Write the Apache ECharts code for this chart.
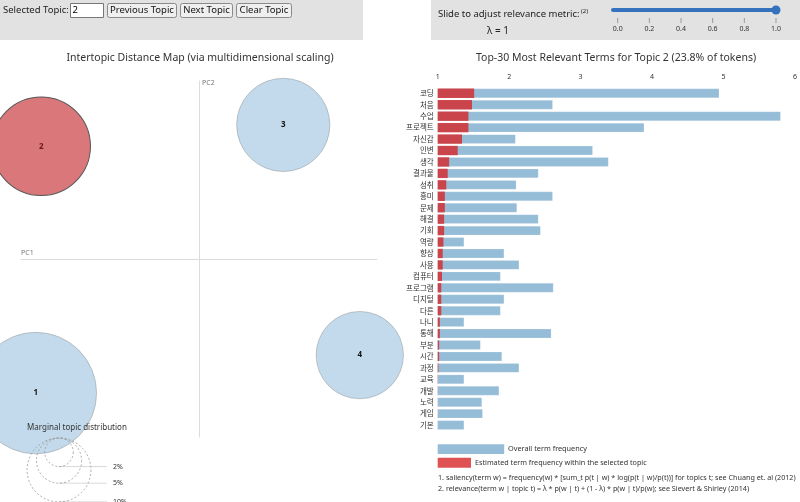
<!DOCTYPE html>
<html><head><meta charset="utf-8">
<script src="https://cdn.jsdelivr.net/npm/echarts@6/dist/echarts.min.js"></script>
<style>html,body{margin:0;padding:0;background:#fff}#c{width:800px;height:502px}</style>
</head><body><div id="c"></div>
<script>
// ---- data ----
const topicIds = ['1', '2', '3', '4'];
const topicPC1 = [-0.275, -0.266, 0.142, 0.271];
const topicPC2 = [-0.226, 0.190, 0.226, -0.162];
const topicShare = [36.2, 23.8, 21.3, 18.7]; // % of tokens
const selectedTopic = '2';
const terms = ['코딩','처음','수업','프로젝트','자신감','인변','생각','결과물','성취','흥미','문제','해결','기회','역량','향상','사용','컴퓨터','프로그램','디지털','다른','나니','통해','부분','시간','과정','교육','개발','노력','게임','기본'];
const overallFreq = [4.94,2.61,5.80,3.89,2.09,3.17,3.39,2.41,2.10,2.61,2.11,2.41,2.44,1.37,1.93,2.14,1.88,2.62,1.93,1.88,1.37,2.59,1.60,1.90,2.14,1.37,1.86,1.62,1.63,1.37];
const topicFreq   = [1.51,1.48,1.43,1.43,1.34,1.28,1.16,1.14,1.12,1.10,1.10,1.09,1.09,1.08,1.07,1.07,1.06,1.05,1.05,1.05,1.03,1.03,1.02,1.02,1.01,1.003,1.002,1.001,1.001,1.001];
const freqTicks = [1, 2, 3, 4, 5, 6];
const marginalGuide = [2, 5, 10];
const lambdaTicks = ['0.0', '0.2', '0.4', '0.6', '0.8', '1.0'];
const lambdaValue = 1;

// ---- styling constants ----
const K = 10.1; // px radius per sqrt(%)
const FONT = '"Noto Sans", "Noto Sans CJK KR", sans-serif';
const KFONT = '"Noto Sans CJK KR", "Noto Sans", sans-serif';

const chart = echarts.init(document.getElementById('c'), null, {renderer: 'canvas'});

const scatterData = topicIds.map((id, i) => ({
  value: [topicPC1[i], topicPC2[i], topicShare[i], id],
  itemStyle: id === selectedTopic
    ? {color: 'rgba(196,36,42,0.62)', borderColor: '#555', borderWidth: 1, opacity: 1}
    : {color: 'rgba(31,119,180,0.27)', borderColor: 'rgba(140,140,140,0.45)', borderWidth: 1, opacity: 1},
  label: {color: id === selectedTopic ? '#6e1a1c' : '#111'}
}));

const g = [];
// left control bar
g.push({type: 'rect', shape: {x: 0, y: 0, width: 363, height: 40}, style: {fill: '#e2e2e2'}, z: 1});
g.push({type: 'text', x: 3, y: 10.5, style: {text: 'Selected Topic:', font: '9.5px ' + FONT, fill: '#222', textVerticalAlign: 'middle'}, z: 2});
g.push({type: 'rect', shape: {x: 70.5, y: 3.5, width: 33, height: 14}, style: {fill: '#fff', stroke: '#777', lineWidth: 1}, z: 2});
g.push({type: 'text', x: 72.5, y: 10.5, style: {text: selectedTopic, font: '9.5px ' + FONT, fill: '#000', textVerticalAlign: 'middle'}, z: 3});
[['Previous Topic', 107, 69], ['Next Topic', 180, 52], ['Clear Topic', 236, 55]].forEach(b => {
  g.push({type: 'rect', shape: {x: b[1] + 0.5, y: 3.5, width: b[2], height: 14, r: 2}, style: {fill: '#efefef', stroke: '#8a8a8a', lineWidth: 1}, z: 2});
  g.push({type: 'text', x: b[1] + b[2] / 2 + 0.5, y: 10.5, style: {text: b[0], font: '9.5px ' + FONT, fill: '#111', textAlign: 'center', textVerticalAlign: 'middle'}, z: 3});
});
// right control bar
g.push({type: 'rect', shape: {x: 431, y: 0, width: 369, height: 40}, style: {fill: '#e2e2e2'}, z: 1});
g.push({type: 'text', x: 438, y: 14, style: {text: 'Slide to adjust relevance metric:', font: '9.5px ' + FONT, fill: '#222', textVerticalAlign: 'middle'}, z: 2});
g.push({type: 'text', x: 581, y: 11, style: {text: '(2)', font: '6px ' + FONT, fill: '#222', textVerticalAlign: 'middle'}, z: 2});
g.push({type: 'text', x: 498, y: 31, style: {text: 'λ = ' + lambdaValue, font: '10px ' + FONT, fill: '#222', textAlign: 'center', textVerticalAlign: 'middle'}, z: 2});
const s0 = 617.7, s1 = 776;
g.push({type: 'line', shape: {x1: 613, y1: 10, x2: s1, y2: 10}, style: {stroke: '#3472bd', lineWidth: 4, lineCap: 'round'}, z: 2});
g.push({type: 'circle', shape: {cx: s0 + (s1 - s0) * lambdaValue, cy: 10, r: 4.5}, style: {fill: '#3472bd'}, z: 3});
lambdaTicks.forEach((t, i) => {
  const x = s0 + (s1 - s0) * parseFloat(t);
  g.push({type: 'line', shape: {x1: x, y1: 18, x2: x, y2: 23}, style: {stroke: '#999', lineWidth: 1}, z: 2});
  g.push({type: 'text', x: x, y: 28.5, style: {text: t, font: '7px ' + FONT, fill: '#333', textAlign: 'center', textVerticalAlign: 'middle'}, z: 2});
});
// titles
g.push({type: 'text', x: 200, y: 58, style: {text: 'Intertopic Distance Map (via multidimensional scaling)', font: '10.5px ' + FONT, fill: '#333', textAlign: 'center', textVerticalAlign: 'middle'}});
g.push({type: 'text', x: 616, y: 58, style: {text: 'Top-30 Most Relevant Terms for Topic ' + selectedTopic + ' (' + topicShare[topicIds.indexOf(selectedTopic)] + '% of tokens)', font: '10.5px ' + FONT, fill: '#333', textAlign: 'center', textVerticalAlign: 'middle'}});
// axis names
g.push({type: 'text', x: 21, y: 253, style: {text: 'PC1', font: '7px ' + FONT, fill: '#777', textVerticalAlign: 'middle'}});
g.push({type: 'text', x: 202, y: 83, style: {text: 'PC2', font: '7px ' + FONT, fill: '#777', textVerticalAlign: 'middle'}});
// marginal guide
g.push({type: 'text', x: 27, y: 428, style: {text: 'Marginal topic distribution', font: '8px ' + FONT, fill: '#333', textVerticalAlign: 'middle'}, z: 10});
const gcx = 59, gtop = 438;
marginalGuide.forEach(p => {
  const r = K * Math.sqrt(p);
  g.push({type: 'circle', shape: {cx: gcx, cy: gtop + r, r: r}, style: {fill: 'none', stroke: '#999', lineWidth: 0.8, lineDash: [2, 2]}, z: 10});
  g.push({type: 'line', shape: {x1: gcx, y1: gtop + 2 * r, x2: 107, y2: gtop + 2 * r}, style: {stroke: 'rgba(128,128,128,0.3)', lineWidth: 1}, z: 10});
  g.push({type: 'text', x: 113, y: gtop + 2 * r, style: {text: p + '%', font: '7px ' + FONT, fill: '#333', textVerticalAlign: 'middle'}, z: 10});
});
// bar legend
g.push({type: 'rect', shape: {x: 437.7, y: 444.3, width: 66.5, height: 9.7}, style: {fill: '#96bdd7'}});
g.push({type: 'text', x: 508, y: 449.2, style: {text: 'Overall term frequency', font: '7.3px ' + FONT, fill: '#333', textVerticalAlign: 'middle'}});
g.push({type: 'rect', shape: {x: 437.7, y: 457.7, width: 33.3, height: 10}, style: {fill: 'rgba(214,39,40,0.8)'}});
g.push({type: 'text', x: 475, y: 462.7, style: {text: 'Estimated term frequency within the selected topic', font: '7.2px ' + FONT, fill: '#333', textVerticalAlign: 'middle'}});
g.push({type: 'text', x: 438, y: 477.5, style: {text: '1. saliency(term w) = frequency(w) * [sum_t p(t | w) * log(p(t | w)/p(t))] for topics t; see Chuang et. al (2012)', font: '7.2px ' + FONT, fill: '#333', textVerticalAlign: 'middle'}});
g.push({type: 'text', x: 438, y: 489, style: {text: '2. relevance(term w | topic t) = λ * p(w | t) + (1 - λ) * p(w | t)/p(w); see Sievert & Shirley (2014)', font: '7.2px ' + FONT, fill: '#333', textVerticalAlign: 'middle'}});

const option = {
  animation: false,
  backgroundColor: '#fff',
  grid: [
    {left: 21, top: 81, width: 356, height: 356},
    {left: 437.7, top: 87.6, width: 357.3, height: 343.2}
  ],
  xAxis: [
    {gridIndex: 0, type: 'value', min: -0.3, max: 0.3,
     axisLine: {show: true, onZero: true, lineStyle: {color: '#dcdcdc', width: 1}},
     axisTick: {show: false}, axisLabel: {show: false}, splitLine: {show: false}},
    {gridIndex: 1, type: 'value', position: 'top', min: freqTicks[0], max: freqTicks[freqTicks.length - 1], interval: 1,
     axisLine: {show: false}, axisTick: {show: false}, splitLine: {show: false},
     axisLabel: {fontSize: 7, color: '#333', margin: 7, fontFamily: FONT}}
  ],
  yAxis: [
    {gridIndex: 0, type: 'value', min: -0.3, max: 0.3,
     axisLine: {show: true, onZero: true, lineStyle: {color: '#dcdcdc', width: 1}},
     axisTick: {show: false}, axisLabel: {show: false}, splitLine: {show: false}},
    {gridIndex: 1, type: 'category', data: terms, inverse: true,
     axisLine: {show: false}, axisTick: {show: false}, splitLine: {show: false},
     axisLabel: {fontSize: 7.5, color: '#333', margin: 4, fontFamily: KFONT}}
  ],
  series: [
    {type: 'scatter', xAxisIndex: 0, yAxisIndex: 0, clip: false,
     data: scatterData,
     symbolSize: d => 2 * K * Math.sqrt(d[2]),
     itemStyle: {opacity: 1},
     label: {show: true, formatter: p => p.value[3], position: 'inside', fontSize: 8, fontWeight: 'bold', fontFamily: FONT}},
    {type: 'bar', xAxisIndex: 1, yAxisIndex: 1, data: overallFreq, barWidth: 9.4,
     itemStyle: {color: '#96bdd7', borderColor: 'rgba(255,255,255,0.35)', borderWidth: 0.5}},
    {type: 'bar', xAxisIndex: 1, yAxisIndex: 1, data: topicFreq, barWidth: 9.4, barGap: '-100%',
     itemStyle: {color: 'rgba(214,39,40,0.8)'}}
  ],
  graphic: g
};
chart.setOption(option);
</script></body></html>
